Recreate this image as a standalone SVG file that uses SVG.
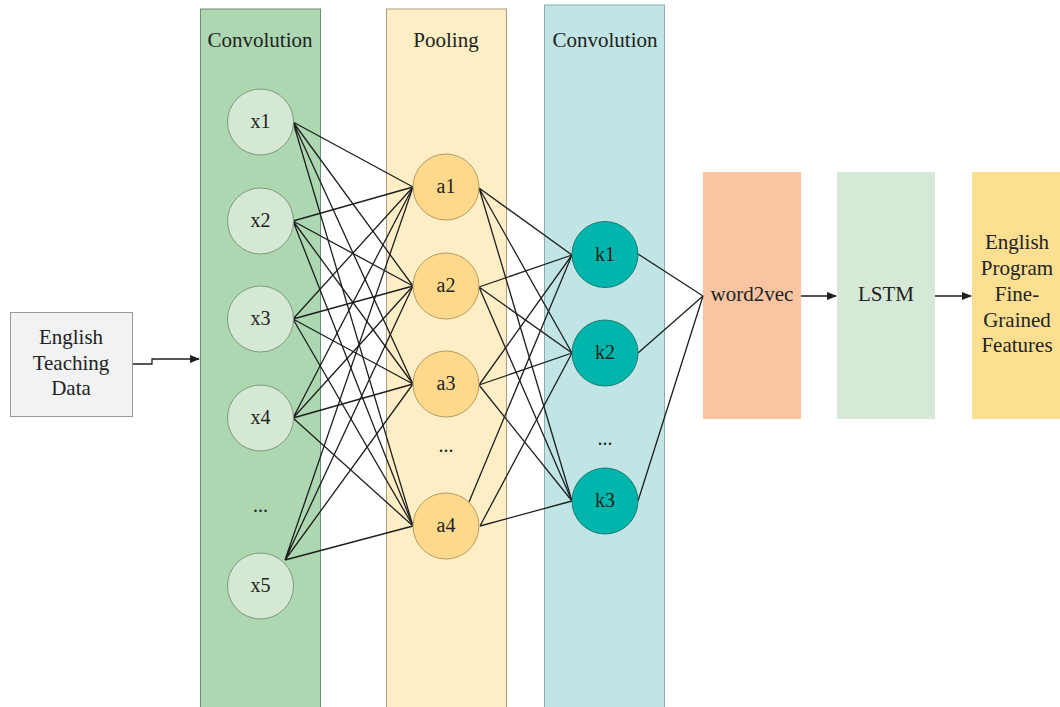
<svg xmlns="http://www.w3.org/2000/svg" width="1060" height="707" viewBox="0 0 1060 707">
<style>
text{font-family:"Liberation Serif","DejaVu Serif",serif;fill:#222;text-anchor:middle}
.t{font-size:21px}
.n{font-size:20px}
.col{stroke-width:1}
.xn{fill:#d5e8d4;stroke:#7f9a7f;stroke-width:1}
.an{fill:#ffd98b;stroke:#b59a63;stroke-width:1}
.kn{fill:#00b5ab;stroke:#1d7a74;stroke-width:1}
.c{stroke:#1e1e1e;stroke-width:1.3;fill:none}
</style>
<defs>
<marker id="arr" viewBox="0 0 10 10" refX="9" refY="5" markerWidth="10" markerHeight="10" markerUnits="userSpaceOnUse" orient="auto">
<path d="M0,1 L10,5 L0,9 Z" fill="#1e1e1e"/>
</marker>
</defs>
<g id="col-conv1"><rect class="col" x="200.5" y="9" width="120" height="700" fill="#acd7b0" stroke="#6f8f74"/><text class="t" x="260" y="47">Convolution</text></g>
<g id="col-pool"><rect class="col" x="386.5" y="9" width="120" height="700" fill="#fdeec6" stroke="#ab9e80"/><text class="t" x="446" y="47">Pooling</text></g>
<g id="col-conv2"><rect class="col" x="544.5" y="5" width="120" height="704" fill="#c0e5e4" stroke="#8aaeb0"/><text class="t" x="605" y="47">Convolution</text></g>
<g id="input"><rect x="10.5" y="312.5" width="122" height="104" fill="#f1f2f4" stroke="#9a9a9a"/><text class="t" x="71" y="344">English</text><text class="t" x="71" y="370">Teaching</text><text class="t" x="71" y="395">Data</text></g>
<g id="word2vec"><rect x="703" y="172" width="98" height="247" fill="#f9c4a2"/><text class="t" x="752" y="301">word2vec</text></g>
<g id="lstm"><rect x="837" y="172" width="98" height="247" fill="#d5e9d6"/><text class="t" x="886" y="301">LSTM</text></g>
<g id="features"><rect x="972" y="172" width="88" height="247" fill="#fddf92"/><text class="t" x="1017" y="249">English</text><text class="t" x="1017" y="275">Program</text><text class="t" x="1017" y="301">Fine-</text><text class="t" x="1017" y="327">Grained</text><text class="t" x="1017" y="352">Features</text></g>
<g id="connectors">
<path class="c" d="M133,364 H152 V359 H199" marker-end="url(#arr)"/>
<path class="c" d="M801,296 H836" marker-end="url(#arr)"/>
<path class="c" d="M935,296 H971" marker-end="url(#arr)"/>
<g id="x-to-a">
<path class="c" d="M293,122 L413,187 M293,122 L413,286 M293,122 L413,384 M293,122 L413,526"/>
<path class="c" d="M293,221 L413,187 M293,221 L413,286 M293,221 L413,384 M293,221 L413,526"/>
<path class="c" d="M293,319 L413,187 M293,319 L413,286 M293,319 L413,384 M293,319 L413,526"/>
<path class="c" d="M293,418 L413,187 M293,418 L413,286 M293,418 L413,384 M293,418 L413,526"/>
<path class="c" d="M285,560 L413,187 M285,560 L413,286 M285,560 L413,384 M285,560 L413,526"/>
</g>
<g id="a-to-k">
<path class="c" d="M479,188 L572,255 M479,188 L572,353 M479,188 L572,501"/>
<path class="c" d="M479,287 L572,255 M479,287 L572,353 M479,287 L572,501"/>
<path class="c" d="M479,385 L572,255 M479,385 L572,353 M479,385 L572,501"/>
<path class="c" d="M469,502 L572,255 M480,526 L572,353 M480,526 L572,501"/>
</g>
<g id="k-to-w">
<path class="c" d="M638,254 L703,296 M638,353 L703,296 M638,501 L703,296"/>
</g>
</g>
<g id="x1"><circle class="xn" cx="260.5" cy="122" r="33"/><text class="n" x="260.5" y="128">x1</text></g>
<g id="x2"><circle class="xn" cx="260.5" cy="221" r="33"/><text class="n" x="260.5" y="227">x2</text></g>
<g id="x3"><circle class="xn" cx="260.5" cy="319" r="33"/><text class="n" x="260.5" y="325">x3</text></g>
<g id="x4"><circle class="xn" cx="260.5" cy="418" r="33"/><text class="n" x="260.5" y="424">x4</text></g>
<g id="xdots"><text class="n" x="260.5" y="512">...</text></g>
<g id="x5"><circle class="xn" cx="260.5" cy="586" r="33"/><text class="n" x="260.5" y="592">x5</text></g>
<g id="a1"><circle class="an" cx="446" cy="187" r="33"/><text class="n" x="446" y="193">a1</text></g>
<g id="a2"><circle class="an" cx="446" cy="286" r="33"/><text class="n" x="446" y="292">a2</text></g>
<g id="a3"><circle class="an" cx="446" cy="384" r="33"/><text class="n" x="446" y="390">a3</text></g>
<g id="adots"><text class="n" x="446" y="452">...</text></g>
<g id="a4"><circle class="an" cx="446" cy="526" r="33"/><text class="n" x="446" y="532">a4</text></g>
<g id="k1"><circle class="kn" cx="605" cy="254.5" r="33"/><text class="n" x="605" y="261">k1</text></g>
<g id="k2"><circle class="kn" cx="605" cy="353" r="33"/><text class="n" x="605" y="359">k2</text></g>
<g id="kdots"><text class="n" x="605" y="445">...</text></g>
<g id="k3"><circle class="kn" cx="605" cy="501" r="33"/><text class="n" x="605" y="507">k3</text></g>
</svg>
